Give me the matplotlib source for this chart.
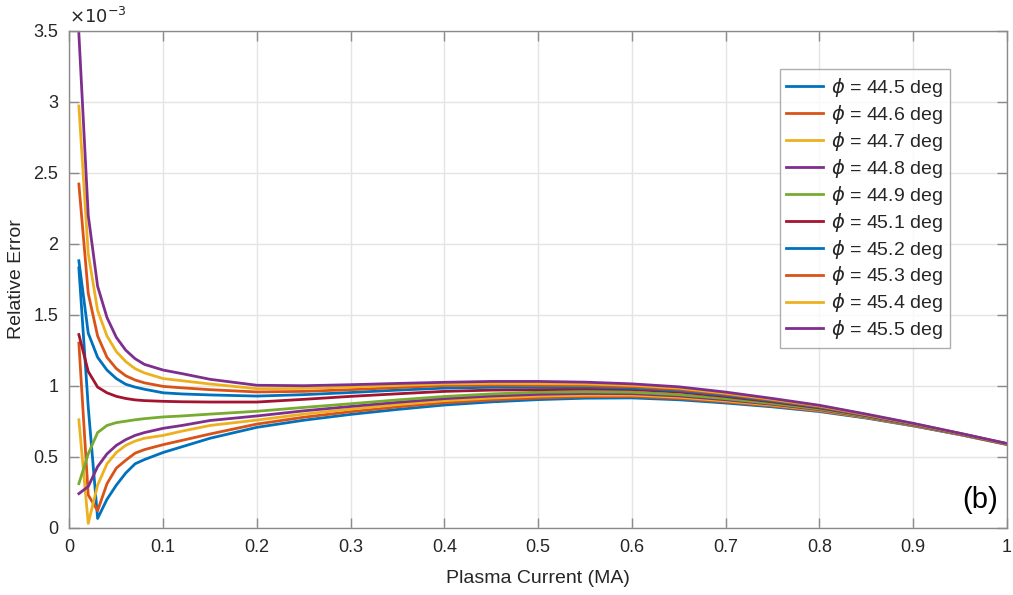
import matplotlib
matplotlib.use("Agg")
import matplotlib.pyplot as plt
from matplotlib.ticker import FuncFormatter, MultipleLocator

# Plasma current (MA)
current = [0.01, 0.02, 0.03, 0.04, 0.05, 0.06, 0.07, 0.08, 0.10, 0.12, 0.15,
           0.20, 0.25, 0.30, 0.35, 0.40, 0.45, 0.50, 0.55, 0.60, 0.65,
           0.70, 0.75, 0.80, 0.85, 0.90, 0.95, 1.00]

phi_labels = ["44.5", "44.6", "44.7", "44.8", "44.9",
              "45.1", "45.2", "45.3", "45.4", "45.5"]

# Relative error, in units of 1e-3
err_445 = [1.83, 0.85, 0.065, 0.20, 0.30, 0.385, 0.45, 0.48, 0.53, 0.57, 0.63,
           0.707, 0.757, 0.798, 0.833, 0.864, 0.886, 0.902, 0.912, 0.914, 0.901,
           0.878, 0.851, 0.818, 0.772, 0.717, 0.655, 0.586]
err_446 = [1.30, 0.23, 0.12, 0.31, 0.42, 0.475, 0.525, 0.55, 0.585, 0.615, 0.66,
           0.730, 0.778, 0.817, 0.851, 0.880, 0.900, 0.914, 0.923, 0.924, 0.910,
           0.886, 0.857, 0.822, 0.775, 0.719, 0.656, 0.587]
err_447 = [0.76, 0.03, 0.30, 0.45, 0.53, 0.58, 0.61, 0.63, 0.65, 0.68, 0.72,
           0.758, 0.800, 0.835, 0.867, 0.895, 0.913, 0.927, 0.933, 0.934, 0.919,
           0.893, 0.863, 0.827, 0.778, 0.721, 0.657, 0.587]
err_448 = [0.24, 0.29, 0.43, 0.52, 0.58, 0.62, 0.65, 0.67, 0.70, 0.72, 0.755,
           0.787, 0.823, 0.854, 0.883, 0.909, 0.927, 0.939, 0.945, 0.944, 0.928,
           0.901, 0.869, 0.831, 0.780, 0.722, 0.658, 0.588]
err_449 = [0.31, 0.52, 0.67, 0.72, 0.74, 0.75, 0.76, 0.768, 0.78, 0.787, 0.80,
           0.820, 0.847, 0.873, 0.900, 0.924, 0.942, 0.954, 0.957, 0.954, 0.937,
           0.909, 0.875, 0.836, 0.783, 0.724, 0.659, 0.589]
err_451 = [1.36, 1.10, 0.99, 0.95, 0.925, 0.91, 0.90, 0.895, 0.89, 0.887, 0.885,
           0.885, 0.904, 0.925, 0.943, 0.960, 0.969, 0.972, 0.976, 0.973, 0.956,
           0.924, 0.886, 0.844, 0.789, 0.728, 0.661, 0.590]
err_452 = [1.88, 1.37, 1.20, 1.11, 1.05, 1.01, 0.99, 0.975, 0.95, 0.942, 0.935,
           0.927, 0.937, 0.952, 0.969, 0.983, 0.989, 0.989, 0.990, 0.983, 0.965,
           0.932, 0.892, 0.849, 0.792, 0.730, 0.662, 0.591]
err_453 = [2.42, 1.65, 1.35, 1.20, 1.12, 1.07, 1.04, 1.02, 0.995, 0.985, 0.972,
           0.956, 0.960, 0.972, 0.987, 1.001, 1.004, 1.002, 1.001, 0.993, 0.974,
           0.940, 0.898, 0.853, 0.794, 0.731, 0.663, 0.591]
err_454 = [2.97, 1.93, 1.53, 1.35, 1.24, 1.17, 1.12, 1.09, 1.05, 1.035, 1.012,
           0.979, 0.981, 0.991, 1.002, 1.013, 1.016, 1.015, 1.013, 1.003, 0.983,
           0.947, 0.904, 0.858, 0.797, 0.733, 0.664, 0.592]
err_455 = [3.48, 2.20, 1.70, 1.48, 1.34, 1.25, 1.19, 1.15, 1.11, 1.085, 1.045,
           1.003, 1.000, 1.007, 1.016, 1.024, 1.030, 1.030, 1.025, 1.013, 0.992,
           0.955, 0.910, 0.862, 0.800, 0.735, 0.665, 0.593]

series = [err_445, err_446, err_447, err_448, err_449,
          err_451, err_452, err_453, err_454, err_455]

colors = ["#0072BD", "#D95319", "#EDB120", "#7E2F8E", "#77AC30",
          "#A2142F", "#0072BD", "#D95319", "#EDB120", "#7E2F8E"]

plt.rcParams['font.family'] = ['Liberation Sans', 'DejaVu Sans']
plt.rcParams['mathtext.fontset'] = 'dejavusans'

fig = plt.figure(figsize=(10.13, 5.95), dpi=100)
ax = fig.add_axes([0.0686, 0.1131, 0.9254, 0.8353])

txt = '#262626'
for vals, lab, c in zip(series, phi_labels, colors):
    ax.plot(current, [v * 1e-3 for v in vals], color=c, lw=2.0,
            label=r'$\phi$ = ' + lab + ' deg')

ax.set_xlim(0, 1)
ax.set_ylim(0, 3.5e-3)
ax.xaxis.set_major_locator(MultipleLocator(0.1))
ax.yaxis.set_major_locator(MultipleLocator(0.5e-3))
ax.xaxis.set_major_formatter(FuncFormatter(lambda v, p: f"{v:g}"))
ax.yaxis.set_major_formatter(FuncFormatter(lambda v, p: f"{round(v*1e3, 3):g}"))

ax.grid(True, color='#e4e4e4', lw=1.0)
ax.set_axisbelow(True)
for s in ax.spines.values():
    s.set_color('#8a8a8a')
    s.set_linewidth(1.0)
ax.tick_params(direction='in', length=7, width=1.0, color='#8a8a8a',
               top=True, right=True, labelsize=13, labelcolor=txt, pad=8)

ax.set_xlabel('Plasma Current (MA)', fontsize=14, color=txt, labelpad=10)
ax.set_ylabel('Relative Error', fontsize=14, color=txt, labelpad=6)

ax.text(0.0, 1.008, r'$\times10^{-3}$', transform=ax.transAxes,
        fontsize=13, color=txt, ha='left', va='bottom')

ax.text(0.971, 0.056, '(b)', transform=ax.transAxes, fontsize=21,
        color='black', ha='center', va='center')

leg = ax.legend(loc='upper right', bbox_to_anchor=(0.939, 0.922),
                fontsize=14, frameon=True, fancybox=False,
                handlelength=1.9, handletextpad=0.4, labelspacing=0.2,
                borderpad=0.35, borderaxespad=0.0)
leg.get_frame().set_edgecolor('#9a9a9a')
leg.get_frame().set_linewidth(1.0)
for t in leg.get_texts():
    t.set_color(txt)

fig.savefig('out.png', dpi=100)
